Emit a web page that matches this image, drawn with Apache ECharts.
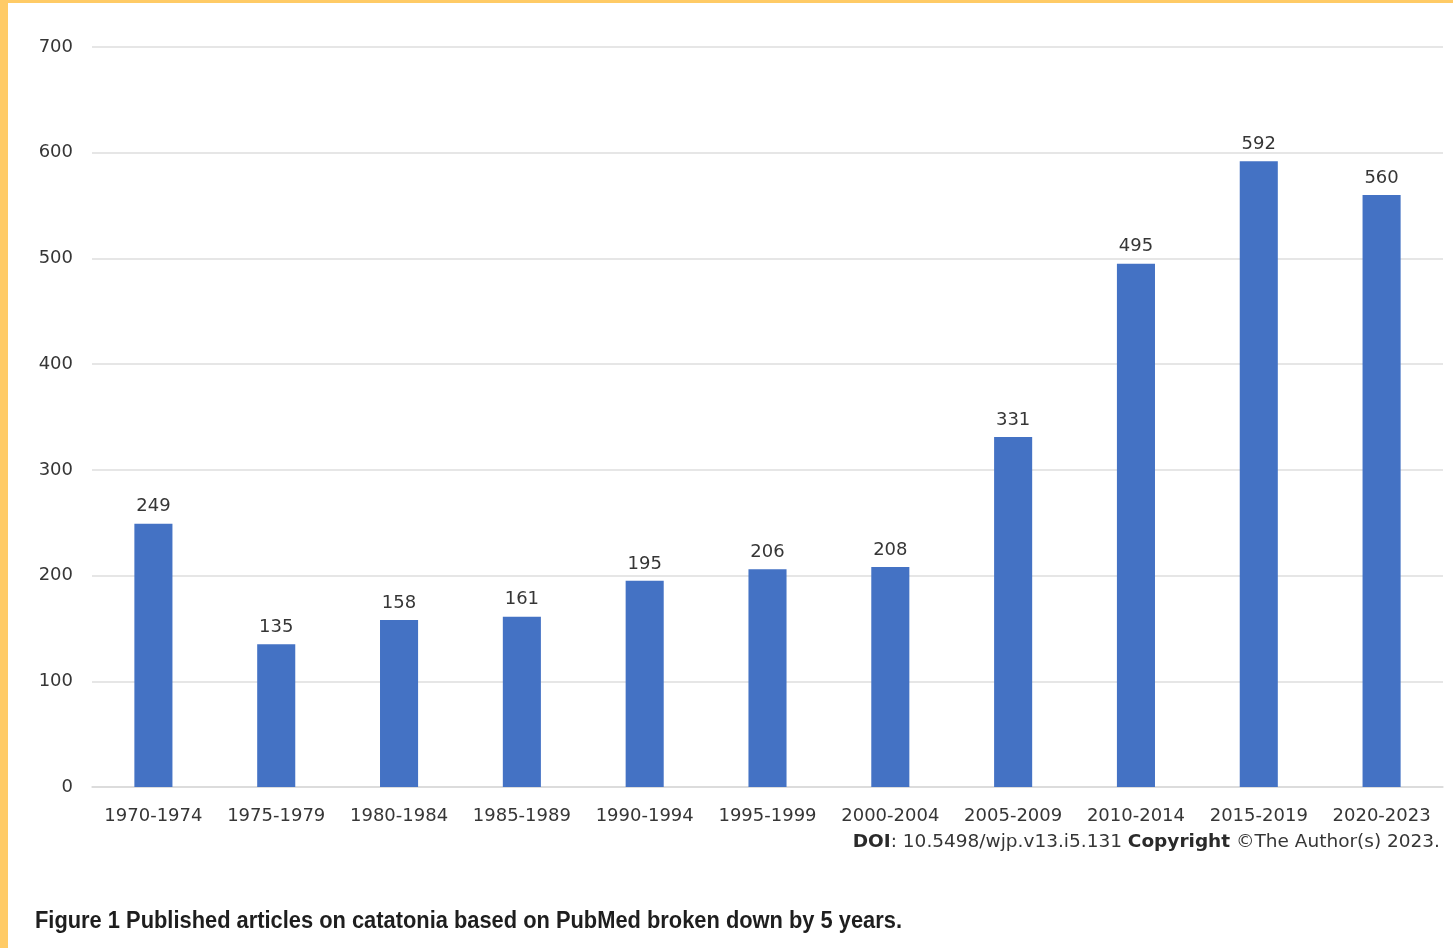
<!DOCTYPE html>
<html>
<head>
<meta charset="utf-8">
<script src="https://cdn.jsdelivr.net/npm/echarts@6/dist/echarts.min.js"></script>
<style>
  html, body { margin: 0; padding: 0; background: #ffffff; }
  #chart { width: 1453px; height: 948px; }
</style>
</head>
<body>
<div id="chart"></div>
<script>
// Published articles on catatonia (PubMed), grouped by 5-year period
const periods = ['1970-1974', '1975-1979', '1980-1984', '1985-1989', '1990-1994',
  '1995-1999', '2000-2004', '2005-2009', '2010-2014', '2015-2019', '2020-2023'];
const articleCounts = [249, 135, 158, 161, 195, 206, 208, 331, 495, 592, 560];
const yTicks = [0, 100, 200, 300, 400, 500, 600, 700];

const captionText = 'Figure 1 Published articles on catatonia based on PubMed broken down by 5 years.';
const captionFont = 'bold 23px "Liberation Sans", Arial, sans-serif';

// condensed caption: squeeze the bold sans face to the narrow figure-caption width
const ctx = document.createElement('canvas').getContext('2d');
ctx.font = captionFont;
const captionScale = 867 / ctx.measureText(captionText).width;

const textColor = '#363636';
const chartFont = '"DejaVu Sans", Verdana, sans-serif';

const chart = echarts.init(document.getElementById('chart'));
chart.setOption({
  animation: false,
  backgroundColor: '#ffffff',
  grid: { left: 92, right: 10, top: 47, bottom: 161 },
  xAxis: {
    type: 'category',
    data: periods,
    axisLine: { show: true, lineStyle: { color: '#d9d9d9', width: 1.5 } },
    axisTick: { show: false },
    axisLabel: { color: textColor, fontFamily: chartFont, fontSize: 18, margin: 20, interval: 0 }
  },
  yAxis: {
    type: 'value',
    min: yTicks[0],
    max: yTicks[yTicks.length - 1],
    interval: 100,
    axisLine: { show: false },
    axisTick: { show: false },
    splitLine: { lineStyle: { color: '#dedede', width: 1.5 } },
    axisLabel: { color: textColor, fontFamily: chartFont, fontSize: 18, margin: 19, padding: [3, 0, 0, 0] }
  },
  series: [{
    type: 'bar',
    data: articleCounts,
    barWidth: '31%',
    itemStyle: { color: '#4472c4' },
    label: {
      show: true,
      position: 'top',
      distance: 8,
      color: textColor,
      fontFamily: chartFont,
      fontSize: 18
    }
  }],
  graphic: [
    // frame edges
    { type: 'rect', left: 0, top: 0, shape: { width: 8, height: 948 }, style: { fill: '#ffcb66' } },
    { type: 'rect', left: 0, top: 0, shape: { width: 1453, height: 3 }, style: { fill: '#ffcb66' } },
    {
      type: 'text',
      right: 13,
      top: 833,
      style: {
        text: '{b|DOI}: 10.5498/wjp.v13.i5.131 {b|Copyright} ©The Author(s) 2023.',
        font: '18.5px "DejaVu Sans", Verdana, sans-serif',
        fill: textColor,
        rich: {
          b: { fontWeight: 'bold', fontFamily: chartFont, fontSize: 18.5, fill: '#2a2a2a' }
        }
      }
    },
    {
      type: 'text',
      x: 35,
      y: 922,
      scaleX: captionScale,
      style: {
        text: captionText,
        font: captionFont,
        fill: '#1e1e1e',
        textVerticalAlign: 'middle'
      }
    }
  ]
});
</script>
</body>
</html>
